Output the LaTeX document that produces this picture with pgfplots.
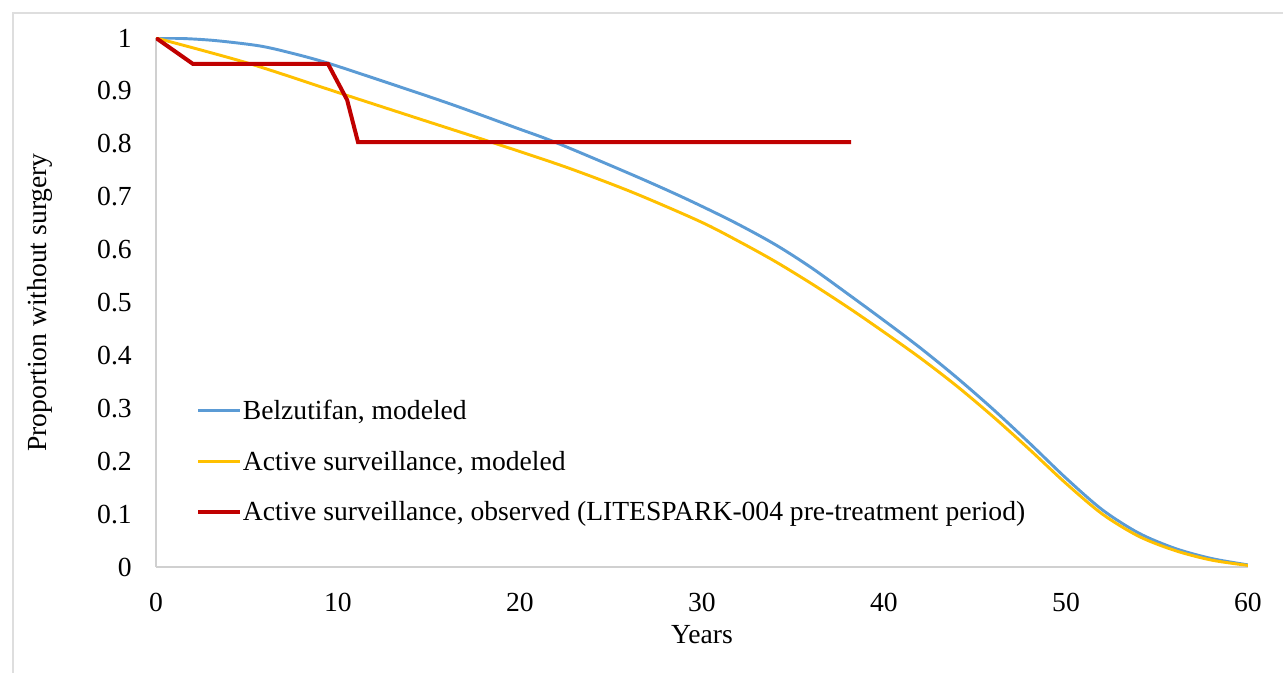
\documentclass[border=0pt]{standalone}
\usepackage{fontspec}
\setmainfont{Liberation Serif}
\usepackage{pgfplots}
\pgfplotsset{compat=1.18}
\definecolor{cblue}{HTML}{5B9BD5}
\definecolor{cyellow}{HTML}{FFC000}
\definecolor{cred}{HTML}{C00000}
\definecolor{axgray}{HTML}{D0D0D0}
\newcommand{\cf}{\fontsize{20.7}{24}\selectfont}
\begin{document}
\begin{tikzpicture}
\path[use as bounding box] (0pt,0pt) rectangle (962.25pt,504pt);
\begin{scope}
\clip (0pt,0pt) rectangle (962.25pt,504pt);
\draw[color=axgray!70, line width=1.2pt] (9.75pt,-20pt) rectangle (980pt,494.25pt);
\end{scope}
\begin{axis}[
  at={(117pt,78.75pt)}, anchor=south west,
  scale only axis, width=819pt, height=396.75pt,
  xmin=0, xmax=60, ymin=0, ymax=1,
  axis x line*=bottom, axis y line*=left,
  axis line style={color=axgray, line width=1.1pt},
  x axis line style={-}, y axis line style={-},
  xtick={0,10,...,60},
  ytick={0,0.1,...,1.01},
  yticklabels={0,0.1,0.2,0.3,0.4,0.5,0.6,0.7,0.8,0.9,1},
  major tick length=0pt,
  /pgf/number format/assume math mode=true,
  ticklabel style={font=\cf, inner sep=0pt},
  xticklabel style={anchor=center, yshift=-26.25pt},
  yticklabel style={anchor=east, xshift=-18pt},
  label style={font=\cf},
  xlabel={Years},
  xlabel style={at={(rel axis cs:0.5,0)}, anchor=center, yshift=-50.5pt},
  ylabel={Proportion without surgery},
  ylabel style={at={(rel axis cs:0,0.5)}, anchor=center, yshift=87pt},
  legend style={at={(0.0366,0.316)}, anchor=north west, draw=none, fill=none,
    font=\cf, row sep=22pt, inner sep=0pt,
    nodes={inner xsep=0.5pt, inner ysep=0pt},
    legend cell align=left},
  legend image code/.code={\draw[#1] (0pt,0pt) -- (31.5pt,0pt);},
]
\addplot[cblue, line width=2.2pt, smooth] coordinates {
(0,1) (1.5,0.999) (3.3,0.995) (5.7,0.985) (7.5,0.971) (9.4,0.953) (12.5,0.918)
(16.2,0.875) (19.8,0.83) (22.0,0.802) (26.2,0.741) (29,0.698) (31.7,0.653)
(34,0.61) (36,0.566) (38.1,0.514) (40,0.466) (42,0.414) (44,0.358) (46,0.298)
(48,0.234) (50,0.168) (52,0.108) (54,0.064) (56,0.035) (58,0.016) (60,0.004)
};
\addlegendentry{Belzutifan, modeled}
\addplot[cyellow, line width=2.2pt, smooth] coordinates {
(0,1) (5,0.953) (10,0.897) (14.3,0.849) (18.7,0.80) (22.6,0.755) (26.2,0.708)
(29.9,0.653) (32,0.616) (34,0.578) (36,0.536) (38.1,0.489) (40,0.444)
(42,0.395) (44,0.342) (46,0.284) (48,0.222) (50,0.158) (52,0.10) (54,0.058)
(56,0.031) (58,0.013) (60,0.003)
};
\addlegendentry{Active surveillance, modeled}
\addplot[cred, line width=3pt] coordinates {
(0,1) (2.03,0.951) (9.45,0.951) (10.5,0.883) (11.1,0.803) (38.2,0.803)
};
\addlegendentry{Active surveillance, observed (LITESPARK-004 pre-treatment period)}
\end{axis}
\end{tikzpicture}
\end{document}
